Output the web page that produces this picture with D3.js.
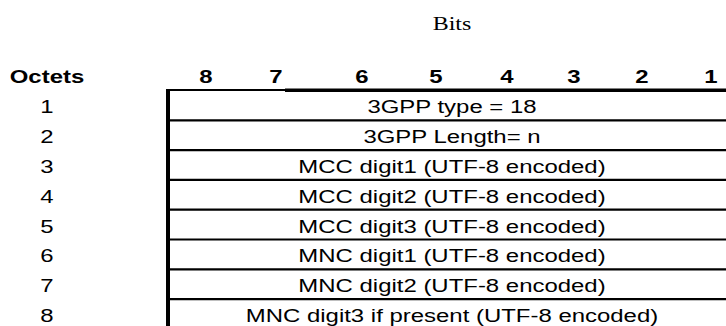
<!DOCTYPE html>
<html>
<head>
<meta charset="utf-8">
<script src="https://cdn.jsdelivr.net/npm/d3@7"></script>
<style>
html,body{margin:0;padding:0;background:#fff;}
svg{display:block;}
</style>
</head>
<body>
<svg id="chart" width="726" height="326"></svg>
<script>
// ---- data ----
const bitsTitle = "Bits";
const octetsTitle = "Octets";
const bits = [8, 7, 6, 5, 4, 3, 2, 1];
const octets = [1, 2, 3, 4, 5, 6, 7, 8];
const fields = [
  "3GPP type = 18",
  "3GPP Length= n",
  "MCC digit1 (UTF-8 encoded)",
  "MCC digit2 (UTF-8 encoded)",
  "MCC digit3 (UTF-8 encoded)",
  "MNC digit1 (UTF-8 encoded)",
  "MNC digit2 (UTF-8 encoded)",
  "MNC digit3 if present (UTF-8 encoded)"
];

// ---- layout ----
const W = 726, H = 326;
const tableLeft = 168, tableRight = 726, tableTop = 90;
const rowH = 29.8;
const sx = 1.26;       // horizontal stretch of the reference text
const fs = 19;
const sans = "'Liberation Sans', Arial, sans-serif";

const svg = d3.select("#chart");

const y = d3.scaleBand().domain(octets).range([tableTop, tableTop + rowH * octets.length]).padding(0);
const bitX = d3.scaleOrdinal().domain(bits).range([206, 276, 362, 436, 507, 574, 642, 711]);
const octetX = 47;
const fieldX = 452;
const textOffset = 23.3;

function stretchedText(g, x, yy) {
  return g.attr("transform", `translate(${x},${yy}) scale(${sx},1)`);
}

// Title "Bits"
svg.append("text")
  .text(bitsTitle)
  .attr("text-anchor", "middle")
  .attr("font-family", "'Liberation Serif', 'Times New Roman', serif")
  .attr("font-size", fs)
  .call(stretchedText, 452, 30);

// Header row
const headerY = 83;
svg.append("text")
  .text(octetsTitle)
  .attr("text-anchor", "middle")
  .attr("font-family", sans)
  .attr("font-weight", "bold")
  .attr("font-size", fs)
  .call(stretchedText, octetX, headerY);

svg.selectAll("text.bit")
  .data(bits)
  .join("text")
  .attr("class", "bit")
  .text(d => d)
  .attr("text-anchor", "middle")
  .attr("font-family", sans)
  .attr("font-weight", "bold")
  .attr("font-size", fs)
  .each(function(d) { d3.select(this).call(stretchedText, bitX(d), headerY); });

// Table lines
// top border: thinner left part, thicker right part
svg.append("line")
  .attr("x1", tableLeft - 2).attr("x2", 285)
  .attr("y1", tableTop).attr("y2", tableTop)
  .attr("stroke", "#000").attr("stroke-width", 2.2);
svg.append("line")
  .attr("x1", 285).attr("x2", tableRight)
  .attr("y1", tableTop + 0.3).attr("y2", tableTop + 0.3)
  .attr("stroke", "#000").attr("stroke-width", 3.6);

// row dividers
svg.selectAll("line.div")
  .data(octets.slice(1))
  .join("line")
  .attr("class", "div")
  .attr("x1", tableLeft).attr("x2", tableRight)
  .attr("y1", d => y(d) + 0.5).attr("y2", d => y(d) + 0.5)
  .attr("stroke", "#000").attr("stroke-width", 2.2);

// left thick border
svg.append("line")
  .attr("x1", tableLeft).attr("x2", tableLeft)
  .attr("y1", tableTop - 1).attr("y2", H + 5)
  .attr("stroke", "#000").attr("stroke-width", 4);

// octet numbers
svg.selectAll("text.oct")
  .data(octets)
  .join("text")
  .attr("class", "oct")
  .text(d => d)
  .attr("text-anchor", "middle")
  .attr("font-family", sans)
  .attr("font-size", fs)
  .each(function(d) { d3.select(this).call(stretchedText, octetX, y(d) + textOffset); });

// field texts
svg.selectAll("text.field")
  .data(fields)
  .join("text")
  .attr("class", "field")
  .text(d => d)
  .attr("text-anchor", "middle")
  .attr("font-family", sans)
  .attr("font-size", fs)
  .each(function(d, i) { d3.select(this).call(stretchedText, fieldX, y(octets[i]) + textOffset); });
</script>
</body>
</html>
